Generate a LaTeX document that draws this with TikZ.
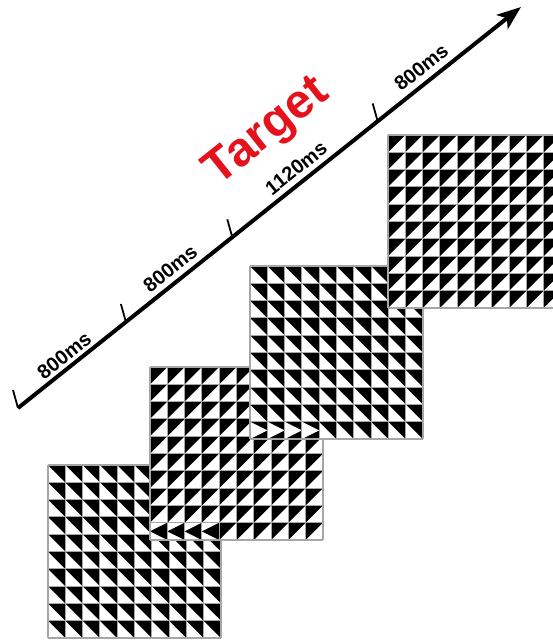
\documentclass[tikz,border=0pt]{standalone}
\usepackage{fontspec}
\setmainfont{Liberation Sans}
\usetikzlibrary{positioning,arrows.meta}
\definecolor{targetred}{RGB}{228,18,28}

\tikzset{
  gridline/.style={draw=black!35, line width=1.1pt},
  timeaxis/.style={line width=4pt, -{Stealth[length=24pt,width=18pt,inset=6pt]}},
  timetick/.style={line width=1.8pt},
  timelbl/.style={font=\fontsize{20}{20}\selectfont\bfseries, inner sep=0pt},
  targetlbl/.style={font=\fontsize{48}{48}\selectfont\bfseries, text=targetred, inner sep=0pt}
}

% #1,#2 = top left corner, #3 = black half of a cell, #4 = extra drawing
\newcommand{\trigrid}[4]{%
  \begin{scope}[shift={(#1,#2)}, x=17.3pt, y=-17.3pt]
    \fill[white] (0,0) rectangle (10,10);
    \foreach \i in {0,...,9}
      \foreach \j in {0,...,9}
        \fill[black, shift={(\i,\j)}] #3 -- cycle;
    #4
    \foreach \k in {0,...,10} {
      \draw[gridline] (\k,0) -- (\k,10);
      \draw[gridline] (0,\k) -- (10,\k);
    }
  \end{scope}}

\begin{document}
\begin{tikzpicture}[x=1pt, y=-1pt]
  \useasboundingbox (0,0) rectangle (553,641);
  \clip (0,0) rectangle (553,641);
  \trigrid{48}{465}{(0,0) -- (1,0) -- (1,1)}{}
  \trigrid{150}{367}{(0,0) -- (1,0) -- (0,1)}{%
    \fill[white] (0,9) rectangle (4,10);
    \foreach \i in {0,...,3} {\fill[black, shift={(\i,9)}] (1,0) -- (0,0.5) -- (1,1) -- cycle;}}
  \trigrid{250}{266}{(0,0) -- (1,0) -- (1,1)}{%
    \fill[black] (0,9) rectangle (4,10);
    \foreach \i in {0,...,3} {\fill[white, shift={(\i,9)}] (0,0) -- (1,0.5) -- (0,1) -- cycle;}}
  \trigrid{388}{135}{(0,0) -- (1,0) -- (0,1)}{}
  \coordinate (t0) at (18,408);
  \coordinate (t1) at (125.9,322);
  \coordinate (t2) at (232.3,237.3);
  \coordinate (t3) at (377.7,121.4);
  \coordinate (tip) at (521,7);
  \draw[timeaxis] (t0) -- (tip);
  \foreach \c in {t0,t1,t2,t3} {\draw[timetick] (\c) -- ++(-5,-18);}
  \path (t0) -- (t1) node[midway, sloped, above=5pt, timelbl] (l1) {800ms};
  \path (t1) -- (t2) node[midway, sloped, above=7pt, timelbl] (l2) {800ms};
  \path (t2) -- (t3) node[midway, sloped, above=7pt, timelbl] (l3) {1120ms};
  \path (t3) -- ++(106,-84.5) node[midway, sloped, above=8pt, timelbl] (l4) {800ms};
  \path (t2) -- (t3) node[midway, sloped, above=38pt, targetlbl] (tg) {Target};
\end{tikzpicture}
\end{document}
